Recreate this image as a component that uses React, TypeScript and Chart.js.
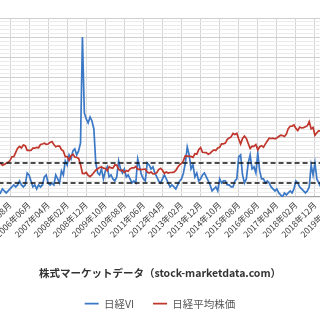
import { useEffect, useRef } from "react";
import { Chart, registerables } from "chart.js";

Chart.register(...registerables);

const FONT = "'Noto Sans CJK JP', 'Noto Sans', sans-serif";

// monthly categories start at 2005年01月
const FIRST_YEAR = 2005;
const YEAR_COUNT = 15;

const TICK_LABELS = [
  "2005年08月", "2006年06月", "2007年04月", "2008年02月", "2008年12月", "2009年10月",
  "2010年08月", "2011年06月", "2012年04月", "2013年02月", "2013年12月", "2014年10月",
  "2015年08月", "2016年06月", "2017年04月", "2018年02月", "2018年12月", "2019年10月",
];

// 日経VI (monthly, 2005年01月 - 2019年04月)
const NIKKEI_VI = [
  16, 16, 15, 17, 16, 15, 16, 17, 18, 19, 18, 19,
  21, 19, 18, 19, 25, 24, 21, 18, 19, 17, 19, 18,
  19, 23, 24, 20, 19, 20, 19, 24, 22, 20, 26, 24,
  31, 29, 34, 32, 36, 37, 34, 36, 40, 93, 55, 52,
  50, 53, 51, 47, 30, 25, 24, 27, 22, 26, 28, 23,
  24, 22, 21, 23, 31, 27, 25, 27, 23, 24, 22, 20,
  21, 20, 32, 28, 24, 22, 21, 30, 29, 27, 28, 25,
  23, 21, 20, 22, 24, 22, 20, 18, 19, 18, 17, 19,
  21, 22, 25, 30, 38, 34, 27, 29, 23, 25, 21, 22,
  24, 25, 23, 21, 19, 16, 17, 18, 16, 22, 20, 21,
  21, 19, 19, 18, 18, 21, 22, 33, 34, 24, 20, 22,
  30, 34, 27, 28, 25, 35, 26, 22, 22, 20, 21, 20,
  18, 17, 16, 17, 15, 14, 13, 15, 14, 15, 16, 15,
  17, 21, 20, 18, 17, 16, 15, 16, 18, 29, 24, 30,
  22, 20, 18, 17,
];

// 日経平均株価 (monthly, 2005年01月 - 2019年04月)
const NIKKEI_225 = [
  11388, 11740, 11668, 11008, 11276, 11584, 11899, 12413, 13574, 13606, 14872, 16111,
  16650, 16205, 17059, 16906, 15467, 15505, 15457, 16140, 16128, 16399, 16274, 17226,
  17383, 17604, 17288, 17400, 17876, 18138, 17248, 16569, 16786, 16738, 15680, 15308,
  13592, 13603, 12526, 13850, 14339, 13481, 13377, 13073, 11260, 8577, 8512, 8860,
  7994, 7568, 8110, 8828, 9523, 9958, 10357, 10493, 10133, 10035, 9346, 10546,
  10198, 10126, 11090, 11057, 9769, 9383, 9537, 8824, 9369, 9202, 9937, 10229,
  10238, 10624, 9755, 9849, 9694, 9816, 9833, 8955, 8700, 8988, 8435, 8455,
  8803, 9723, 10084, 9521, 8543, 9007, 8695, 8840, 8870, 8928, 9446, 10395,
  11139, 11559, 12398, 13861, 13775, 13677, 13668, 13389, 14456, 14328, 15662, 16291,
  14915, 14841, 14828, 14304, 14632, 15162, 15621, 15425, 16174, 16414, 17460, 17451,
  17674, 18798, 19207, 19520, 20563, 20236, 20585, 18890, 17388, 19083, 19747, 19034,
  17518, 16027, 16759, 16666, 17235, 15576, 16569, 16887, 16450, 17425, 18308, 19114,
  19041, 19119, 18909, 19197, 19651, 20033, 19925, 19646, 20356, 22012, 22725, 22765,
  23098, 22068, 21454, 22468, 22202, 22305, 22554, 22865, 24120, 21920, 22351, 20015,
  20773, 21385, 21206, 22259,
];

// 日経VI reference levels (dashed lines)
const VI_LEVELS = [20, 30];

const MONTH_LABELS: string[] = [];
for (let y = 0; y < YEAR_COUNT; y++) {
  for (let m = 1; m <= 12; m++) {
    MONTH_LABELS.push(`${FIRST_YEAR + y}年${String(m).padStart(2, "0")}月`);
  }
}

const BLUE = "#3b78c6";
const RED = "#c0362c";

export default function App() {
  const ref = useRef<HTMLCanvasElement>(null);

  useEffect(() => {
    const toPoints = (arr: number[]) => arr.map((v, i) => ({ x: i, y: v }));
    const tickIdx = TICK_LABELS.map((l) => MONTH_LABELS.indexOf(l));
    const gridTicks: number[] = [];
    for (let k = 0; k <= 45; k++) gridTicks.push(k / 5);

    const chart = new Chart(ref.current!, {
      type: "line",
      data: {
        datasets: [
          ...VI_LEVELS.map((lv) => ({
            label: `VI ${lv}`,
            data: MONTH_LABELS.map((_, i) => ({ x: i, y: lv })),
            borderColor: "#111",
            borderWidth: 1.6,
            borderDash: [5, 3],
            pointRadius: 0,
            yAxisID: "vi",
            order: -1,
          })),
          {
            label: "日経VI",
            data: toPoints(NIKKEI_VI),
            borderColor: BLUE,
            backgroundColor: BLUE,
            borderWidth: 1.7,
            pointRadius: 0,
            tension: 0,
            yAxisID: "vi",
            order: 2,
          },
          {
            label: "日経平均株価",
            data: toPoints(NIKKEI_225),
            borderColor: RED,
            backgroundColor: RED,
            borderWidth: 1.7,
            pointRadius: 0,
            tension: 0,
            yAxisID: "nk",
            order: 1,
          },
        ],
      },
      options: {
        animation: false,
        responsive: false,
        maintainAspectRatio: false,
        layout: { padding: { top: 18, left: 0, right: 0, bottom: 1.2 } },
        scales: {
          x: {
            type: "linear",
            min: 1.75,
            max: 169.65,
            afterBuildTicks: (axis: any) => {
              axis.ticks = tickIdx.map((v) => ({ value: v }));
            },
            afterFit: (axis: any) => {
              axis.paddingLeft = 0;
              axis.paddingRight = 0;
            },
            ticks: {
              autoSkip: false,
              minRotation: 45,
              maxRotation: 45,
              padding: 3,
              color: "#3a3a3a",
              font: { family: FONT, size: 8.5 },
              callback: (v: any) => MONTH_LABELS[v] ?? "",
            },
            grid: { color: "#d4d4d4", lineWidth: 1, drawTicks: false },
            border: { color: "#a6a6a6", width: 1.2 },
          },
          grid: {
            type: "linear",
            position: "left",
            min: 0,
            max: 9,
            afterBuildTicks: (axis: any) => {
              axis.ticks = gridTicks.map((v) => ({ value: v }));
            },
            afterFit: (axis: any) => {
              axis.width = 0;
              axis.paddingTop = 0;
              axis.paddingBottom = 0;
            },
            ticks: { display: false },
            border: { display: false },
            grid: {
              drawTicks: false,
              color: (ctx: any) =>
                Math.abs(ctx.tick.value - Math.round(ctx.tick.value)) < 1e-6 ? "#cfcfcf" : "#ebebeb",
            },
          },
          vi: { type: "linear", display: false, min: 13, max: 102.5 },
          nk: { type: "linear", display: false, min: 1500, max: 55200 },
        },
        plugins: {
          title: {
            display: true,
            position: "bottom",
            text: "株式マーケットデータ（stock-marketdata.com）",
            color: "#333",
            font: { family: FONT, size: 10.5, weight: "bold" },
            padding: { top: 24.5, bottom: 0 },
            weight: 500,
          } as any,
          legend: {
            position: "bottom",
            labels: {
              usePointStyle: true,
              pointStyle: "line",
              pointStyleWidth: 14,
              padding: 19,
              color: "#555",
              font: { family: FONT, size: 10.5 },
              filter: (item: any) => !String(item.text).startsWith("VI "),
              sort: (a: any, b: any) => a.datasetIndex - b.datasetIndex,
            },
          },
          tooltip: { enabled: false },
        },
      },
    });
    return () => chart.destroy();
  }, []);

  return (
    <div style={{ position: "absolute", left: 0, top: 0, width: 320, height: 320, background: "#fff" }}>
      <canvas ref={ref} width={320} height={320} style={{ display: "block" }} />
    </div>
  );
}
